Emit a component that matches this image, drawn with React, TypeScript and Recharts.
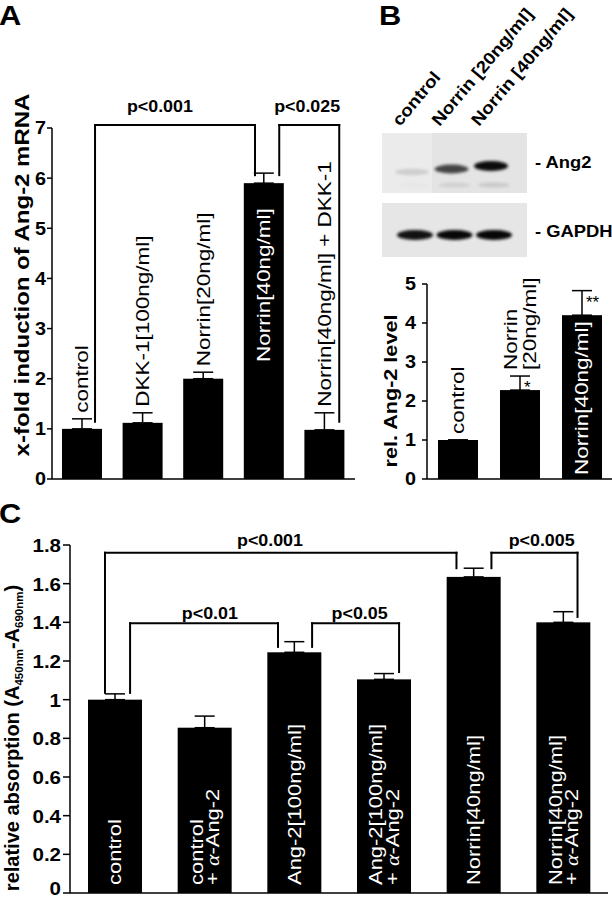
import React from 'react';
import { BarChart, Bar, XAxis, YAxis, ErrorBar, ReferenceLine, ReferenceDot } from 'recharts';

const FONT = '"Liberation Sans", Arial, Helvetica, sans-serif';
const SERIF = '"Liberation Serif", "Times New Roman", serif';

// A: qPCR, x-fold induction of Ang-2 mRNA
const aGroups = [['control'], ['DKK-1[100ng/ml]'], ['Norrin[20ng/ml]'], ['Norrin[40ng/ml]'], ['Norrin[40ng/ml] + DKK-1']];
const aMeans = [1.0, 1.12, 2.0, 5.9, 0.98];
const aErrors = [0.2, 0.2, 0.13, 0.2, 0.34];
const aTicks = [0, 1, 2, 3, 4, 5, 6, 7];

// B: western blot + densitometry
const blotLanes = ['control', 'Norrin [20ng/ml]', 'Norrin [40ng/ml]'];
const ang2Signal = [0.12, 0.7, 0.95];
const gapdhSignal = [0.92, 0.97, 0.97];
const bGroups = [['control'], ['Norrin', '[20ng/ml]'], ['Norrin[40ng/ml]']];
const bMeans = [1.0, 2.28, 4.2];
const bErrors = [0, 0.36, 0.63];
const bStars = ['', '*', '**'];
const bTicks = [0, 1, 2, 3, 4, 5];

// C: relative absorption
const cGroups = [
  ['control'],
  ['control', '+ α-Ang-2'],
  ['Ang-2[100ng/ml]'],
  ['Ang-2[100ng/ml]', '+ α-Ang-2'],
  ['Norrin[40ng/ml]'],
  ['Norrin[40ng/ml]', '+ α-Ang-2'],
];
const cMeans = [1.0, 0.855, 1.245, 1.105, 1.635, 1.4];
const cErrors = [0.03, 0.06, 0.055, 0.03, 0.045, 0.055];
const cTicks = [0, 0.2, 0.4, 0.6, 0.8, 1, 1.2, 1.4, 1.6, 1.8];

// significance brackets (x in category units, y in axis units)
const aBrackets = [
  { text: 'p<0.001', x1: 0.21, y1: 1.14, x2: 2.85, y2: 6.06, top: 7.06, tx: 1.28, ty: 7.44 },
  { text: 'p<0.025', x1: 3.25, y1: 6.06, x2: 4.24, y2: 1.14, top: 7.06, tx: 3.71, ty: 7.44 },
];
const cBrackets = [
  { text: 'p<0.001', x1: -0.11, y1: 1.035, x2: 3.81, y2: 1.68, top: 1.76, tx: 1.73, ty: 1.825 },
  { text: 'p<0.01', x1: 0.17, y1: 1.035, x2: 1.82, y2: 1.273, top: 1.395, tx: 1.06, ty: 1.45 },
  { text: 'p<0.05', x1: 2.2, y1: 1.273, x2: 3.17, y2: 1.143, top: 1.395, tx: 2.73, ty: 1.45 },
  { text: 'p<0.005', x1: 4.2, y1: 1.68, x2: 5.16, y2: 1.428, top: 1.76, tx: 4.76, ty: 1.825 },
];

const toRows = (groups: string[][], means: number[], errors: number[], stars?: string[]) =>
  means.map((m, i) => ({ x: i, mean: m, err: [0, errors[i]], lines: groups[i], star: stars ? stars[i] : '' }));

const aData = toRows(aGroups, aMeans, aErrors);
const bData = toRows(bGroups, bMeans, bErrors, bStars);
const cData = toRows(cGroups, cMeans, cErrors);

let ctx: CanvasRenderingContext2D | null = null;
const textWidth = (s: string, font: string) => {
  if (!ctx) ctx = document.createElement('canvas').getContext('2d');
  if (!ctx) return s.length * 9;
  ctx.font = font;
  return ctx.measureText(s).width;
};

const withAlpha = (s: string) => {
  const parts = s.split('α');
  return parts.map((p, i) => (
    <React.Fragment key={i}>
      {i > 0 && <tspan fontFamily={SERIF} fontStyle="italic">α</tspan>}
      {p}
    </React.Fragment>
  ));
};

// vertical (rotated) text, stretched along its reading direction
const VText = ({ x, y, lines, fs, sx, fill = '#000', weight = 'normal', anchor = 'start', lh = 0.95 }: any) => {
  const n = lines.length;
  return (
    <text
      transform={`translate(${x},${y}) rotate(-90) scale(${sx},1)`}
      fontFamily={FONT}
      fontSize={fs}
      fontWeight={weight}
      fill={fill}
      textAnchor={anchor}
    >
      {lines.map((l: string, i: number) => (
        <tspan key={i} x={0} y={0.36 * fs + (i - (n - 1) / 2) * lh * fs}>
          {withAlpha(l)}
        </tspan>
      ))}
    </text>
  );
};

type LabelStyle = { fs: number; sx: number; lh: number; insideTop?: number; insidePad: number; gap: number };

const barShape = (st: LabelStyle) => (p: any) => {
  const { x, y, width, height, payload } = p;
  if (!payload) return null;
  const lines: string[] = payload.lines;
  const cx = x + width / 2;
  const perUnit = payload.mean ? height / payload.mean : 0;
  const errTop = y - payload.err[1] * perUnit;
  const len = Math.max(...lines.map((l) => textWidth(l, `${st.fs}px ${FONT}`))) * st.sx;
  const inside = len + 4 < height;
  let start = errTop - st.gap;
  if (inside) start = st.insideTop != null ? y + st.insideTop + len : y + height - st.insidePad;
  return (
    <g>
      <rect x={x} y={y} width={width} height={height} fill="#000" />
      <VText x={cx} y={start} lines={lines} fs={st.fs} sx={st.sx} lh={st.lh} fill={inside ? '#fff' : '#000'} />
      {payload.star ? (
        <text x={cx + 4} y={errTop + 17} fontSize={17} fontFamily={FONT} fill="#000">
          {payload.star}
        </text>
      ) : null}
    </g>
  );
};

// the bottom "0" of panel C sits on the page edge, so it is lifted a little
const yTick = (fs: number, sx: number, zeroDy = '0.36em') => (p: any) => (
  <text
    transform={`translate(${p.x},${p.y}) scale(${sx},1)`}
    textAnchor="end"
    dy={p.payload.value === 0 ? zeroDy : '0.36em'}
    fontFamily={FONT}
    fontWeight="bold"
    fontSize={fs}
    fill="#000"
  >
    {String(p.payload.value)}
  </text>
);

const pText = (text: string, fs: number, sx: number) => (p: any) => (
  <text
    transform={`translate(${p.cx},${p.cy}) scale(${sx},1)`}
    textAnchor="middle"
    dy="0.36em"
    fontFamily={FONT}
    fontWeight="bold"
    fontSize={fs}
    fill="#000"
  >
    {text}
  </text>
);

const bracketLines = (list: any[], key: string, fs: number, sx: number) =>
  list.flatMap((b, i) => [
    <ReferenceLine key={`${key}${i}a`} segment={[{ x: b.x1, y: b.y1 }, { x: b.x1, y: b.top }]} stroke="#000" strokeWidth={2} strokeLinecap="square" ifOverflow="visible" />,
    <ReferenceLine key={`${key}${i}b`} segment={[{ x: b.x1, y: b.top }, { x: b.x2, y: b.top }]} stroke="#000" strokeWidth={2} strokeLinecap="square" ifOverflow="visible" />,
    <ReferenceLine key={`${key}${i}c`} segment={[{ x: b.x2, y: b.top }, { x: b.x2, y: b.y2 }]} stroke="#000" strokeWidth={2} strokeLinecap="square" ifOverflow="visible" />,
    <ReferenceDot key={`${key}${i}t`} x={b.tx} y={b.ty} r={0} ifOverflow="visible" shape={pText(b.text, fs, sx)} />,
  ]);

const axisLine = { stroke: '#000', strokeWidth: 1.5 };
const catTicks = (n: number) => Array.from({ length: n + 1 }, (_, i) => i - 0.5);

const laneX = (i: number) => 415 + i * 39.5;

const Overlay = () => (
  <svg width={612} height={900} style={{ position: 'absolute', left: 0, top: 0 }}>
    <defs>
      <filter id="bandBlur" x="-50%" y="-150%" width="200%" height="400%">
        <feGaussianBlur stdDeviation="1.6" />
      </filter>
    </defs>
    <g fontFamily={FONT} fontWeight="bold" fill="#000">
      <text transform="translate(-1,25) scale(1.1,1)" fontSize={28}>A</text>
      <text transform="translate(379,25) scale(1.1,1)" fontSize={28}>B</text>
      <text transform="translate(-1,523) scale(1.1,1)" fontSize={28}>C</text>
    </g>
    <VText x={22} y={275} lines={['x-fold induction of Ang-2 mRNA']} fs={20} sx={1.2} weight="bold" anchor="middle" lh={0} />
    <VText x={391} y={391} lines={['rel. Ang-2 level']} fs={18} sx={1.2} weight="bold" anchor="middle" lh={0} />
    <text transform="translate(19,738) rotate(-90)" fontFamily={FONT} fontWeight="bold" fontSize={20} textAnchor="middle">
      relative absorption (A
      <tspan fontSize={11.5} dy={4}>450nm</tspan>
      <tspan dy={-4}>-A</tspan>
      <tspan fontSize={11.5} dy={4}>690nm</tspan>
      <tspan dy={-4}>)</tspan>
    </text>

    {blotLanes.map((l, i) => (
      <text key={l} transform={`translate(${400 + i * 39.5},127) rotate(-50) scale(1.12,1)`} fontFamily={FONT} fontWeight="bold" fontSize={17}>
        {l}
      </text>
    ))}
    <rect x={382} y={133} width={145} height={60} fill="#e4e4e4" />
    <rect x={382} y={133} width={50} height={60} fill="#ebebeb" />
    {ang2Signal.map((s, i) => (
      <ellipse key={i} cx={laneX(i) - 3} cy={172 - i * 3} rx={17} ry={3 + 2 * s} fill="#000" opacity={s} filter="url(#bandBlur)" />
    ))}
    {ang2Signal.map((s, i) => (
      <ellipse key={`f${i}`} cx={laneX(i)} cy={185} rx={16} ry={2.5} fill="#000" opacity={s * 0.12} filter="url(#bandBlur)" />
    ))}
    <rect x={382} y={203} width={145} height={54} fill="#e6e6e6" />
    {gapdhSignal.map((s, i) => (
      <ellipse key={i} cx={laneX(i)} cy={235} rx={18} ry={5} fill="#000" opacity={s} filter="url(#bandBlur)" />
    ))}
    <g fontFamily={FONT} fontWeight="bold" fontSize={16} fill="#000">
      <text transform="translate(535,168) scale(1.15,1)">- Ang2</text>
      <text transform="translate(535,237) scale(1.15,1)">- GAPDH</text>
    </g>
  </svg>
);

export default function App() {
  return (
    <div style={{ position: 'absolute', left: 0, top: 0, width: 612, height: 900, overflow: 'hidden', background: '#fff' }}>
      <Overlay />
      <div style={{ position: 'absolute', left: 0, top: 0 }}>
        <BarChart width={370} height={500} data={aData} margin={{ top: 128, right: 15, bottom: 1, left: 12 }}>
          <XAxis type="number" dataKey="x" domain={[-0.5, 4.5]} ticks={catTicks(5)} interval={0} tick={false} tickSize={5} height={20} axisLine={axisLine} tickLine={axisLine} />
          <YAxis type="number" domain={[0, 7]} ticks={aTicks} interval={0} width={40} tickSize={5} tickMargin={1} tick={yTick(18, 1.1)} axisLine={axisLine} tickLine={axisLine} />
          <Bar dataKey="mean" barSize={40} isAnimationActive={false} shape={barShape({ fs: 18, sx: 1.25, lh: 1, insideTop: 25, insidePad: 8, gap: 6 })}>
            <ErrorBar dataKey="err" direction="y" width={10} stroke="#000" strokeWidth={1.5} />
          </Bar>
          {bracketLines(aBrackets, 'a', 17, 1.05)}
        </BarChart>
      </div>
      <div style={{ position: 'absolute', left: 370, top: 260 }}>
        <BarChart width={260} height={240} data={bData} margin={{ top: 24, right: 17, bottom: 1, left: 17 }}>
          <XAxis type="number" dataKey="x" domain={[-0.5, 2.5]} ticks={catTicks(3)} interval={0} tick={false} tickSize={5} height={20} axisLine={axisLine} tickLine={axisLine} />
          <YAxis type="number" domain={[0, 5]} ticks={bTicks} interval={0} width={40} tickSize={5} tickMargin={6} tick={yTick(18, 1.1)} axisLine={axisLine} tickLine={axisLine} />
          <Bar dataKey="mean" barSize={40} isAnimationActive={false} shape={barShape({ fs: 18, sx: 1.25, lh: 1.1, insidePad: 4, gap: 6 })}>
            <ErrorBar dataKey="err" direction="y" width={10} stroke="#000" strokeWidth={1.5} />
          </Bar>
        </BarChart>
      </div>
      <div style={{ position: 'absolute', left: 0, top: 520 }}>
        <BarChart width={612} height={380} data={cData} margin={{ top: 25, right: 4, bottom: 0, left: 20 }}>
          <XAxis type="number" dataKey="x" domain={[-0.5, 5.5]} ticks={catTicks(6)} interval={0} tick={false} tickSize={5} height={7} axisLine={axisLine} tickLine={axisLine} />
          <YAxis type="number" domain={[0, 1.8]} ticks={cTicks} interval={0} width={50} tickSize={7} tickMargin={2} tick={yTick(19, 1.08, '0.12em')} axisLine={axisLine} tickLine={axisLine} />
          <Bar dataKey="mean" barSize={54} isAnimationActive={false} shape={barShape({ fs: 18, sx: 1.22, lh: 0.92, insidePad: 8, gap: 6 })}>
            <ErrorBar dataKey="err" direction="y" width={10} stroke="#000" strokeWidth={1.5} />
          </Bar>
          {bracketLines(cBrackets, 'c', 17, 1.05)}
        </BarChart>
      </div>
    </div>
  );
}
